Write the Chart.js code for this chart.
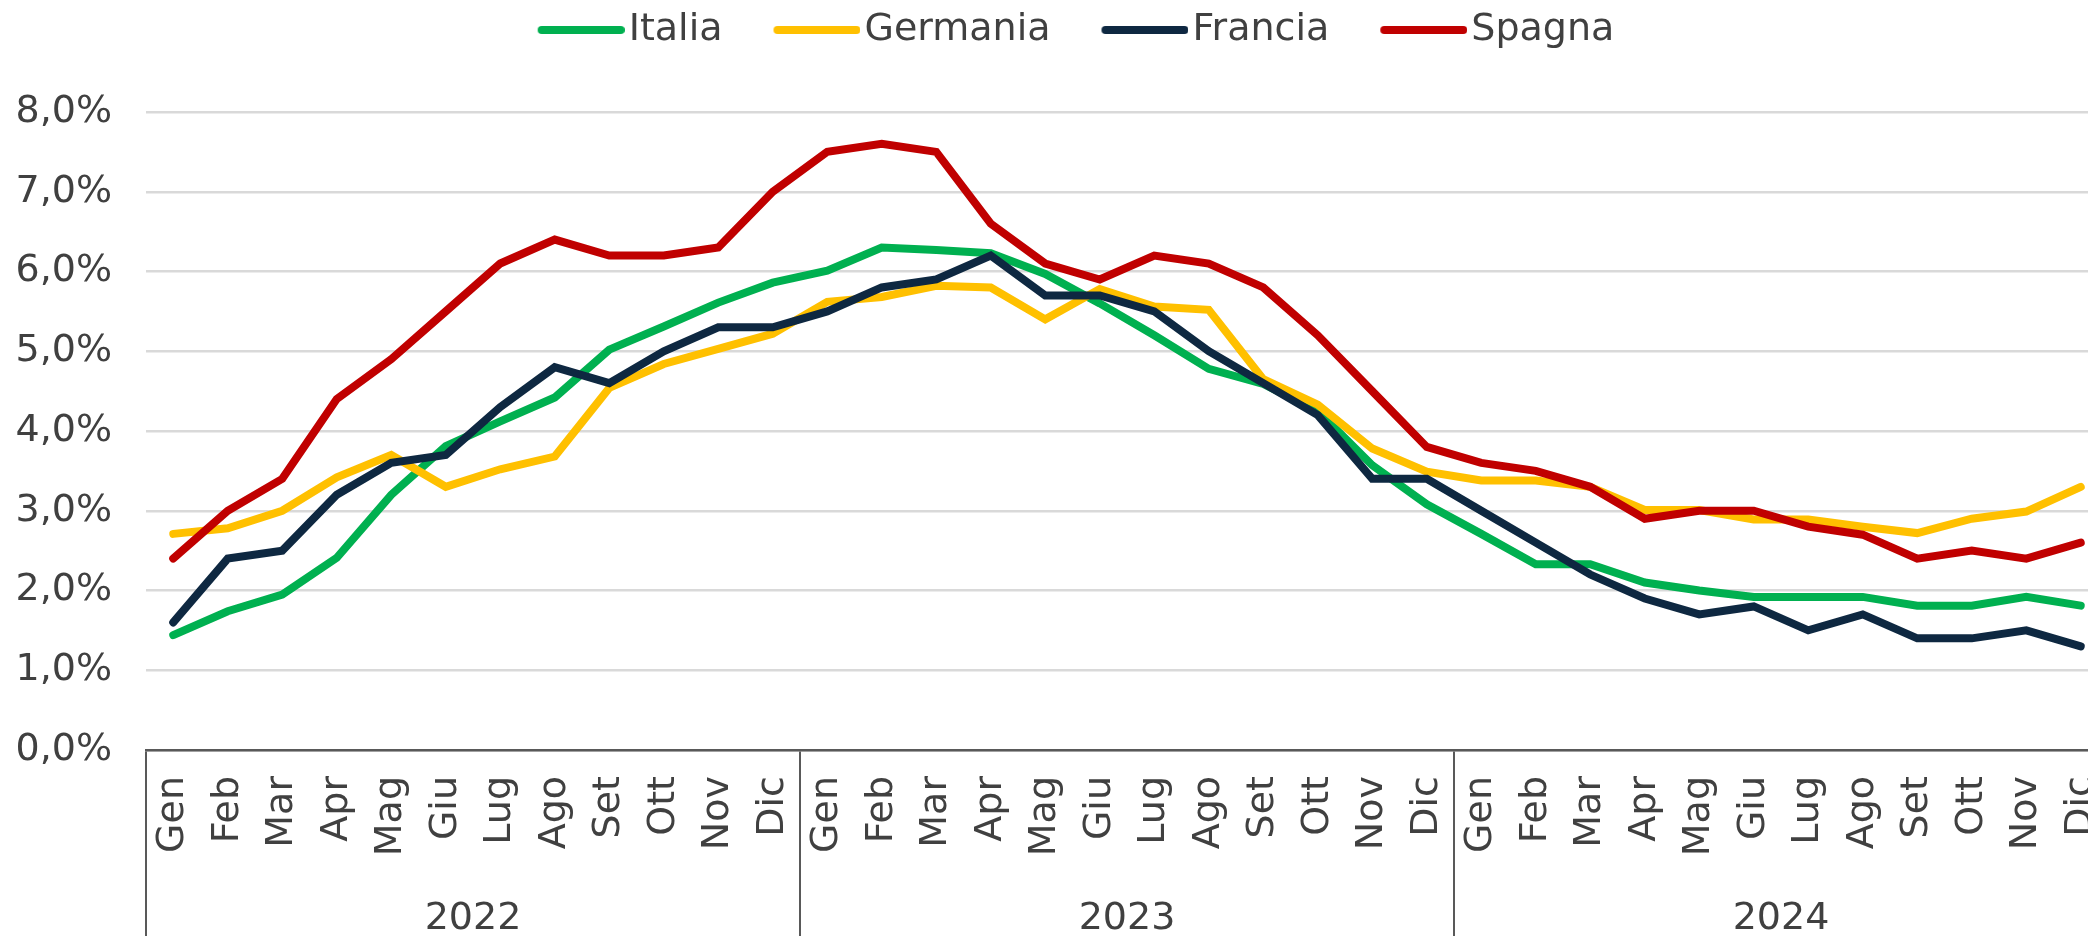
<!DOCTYPE html>
<html>
<head>
<meta charset="utf-8">
<script src="https://cdn.jsdelivr.net/npm/chart.js@4.4.1/dist/chart.umd.min.js"></script>
<style>
  html, body { margin: 0; padding: 0; background: #ffffff; overflow: hidden; }
  #wrap { width: 2108px; height: 936px; }
</style>
</head>
<body>
<div id="wrap"><canvas id="c" width="2108" height="936"></canvas></div>
<script>
// ---- data ----
const years = ['2022', '2023', '2024'];
const months = ['Gen', 'Feb', 'Mar', 'Apr', 'Mag', 'Giu', 'Lug', 'Ago', 'Set', 'Ott', 'Nov', 'Dic'];
const yTickLabels = ['0,0%', '1,0%', '2,0%', '3,0%', '4,0%', '5,0%', '6,0%', '7,0%', '8,0%'];

const italia = [1.44, 1.74, 1.95, 2.41, 3.20, 3.81, 4.12, 4.42, 5.02, 5.31, 5.61, 5.86,
                6.01, 6.30, 6.27, 6.23, 5.97, 5.60, 5.20, 4.78, 4.59, 4.25, 3.57, 3.08,
                2.71, 2.33, 2.33, 2.10, 2.00, 1.92, 1.92, 1.92, 1.81, 1.81, 1.92, 1.81];
const germania = [2.71, 2.78, 3.00, 3.42, 3.70, 3.30, 3.52, 3.68, 4.54, 4.84, 5.03, 5.22,
                  5.62, 5.68, 5.82, 5.80, 5.40, 5.78, 5.56, 5.52, 4.65, 4.33, 3.78, 3.49,
                  3.38, 3.38, 3.30, 3.01, 3.01, 2.89, 2.89, 2.80, 2.72, 2.90, 2.99, 3.30];
const francia = [1.6, 2.4, 2.5, 3.2, 3.6, 3.7, 4.3, 4.8, 4.6, 5.0, 5.3, 5.3,
                 5.5, 5.8, 5.9, 6.2, 5.7, 5.7, 5.5, 5.0, 4.6, 4.2, 3.4, 3.4,
                 3.0, 2.6, 2.2, 1.9, 1.7, 1.8, 1.5, 1.7, 1.4, 1.4, 1.5, 1.3];
const spagna = [2.4, 3.0, 3.4, 4.4, 4.9, 5.5, 6.1, 6.4, 6.2, 6.2, 6.3, 7.0,
                7.5, 7.6, 7.5, 6.6, 6.1, 5.9, 6.2, 6.1, 5.8, 5.2, 4.5, 3.8,
                3.6, 3.5, 3.3, 2.9, 3.0, 3.0, 2.8, 2.7, 2.4, 2.5, 2.4, 2.6];
const seriesNames = ['Italia', 'Germania', 'Francia', 'Spagna'];
const seriesColors = ['#00B050', '#FFC000', '#0E2841', '#C00000'];

// ---- build ----
const categories = [];
years.forEach(() => months.forEach(m => categories.push(m)));
const seriesValues = [italia, germania, francia, spagna];

const TEXT = '#404040';
const AXIS = '#595959';
Chart.defaults.font.family = '"DejaVu Sans", sans-serif';
Chart.defaults.font.size = 38;
Chart.defaults.color = TEXT;

function legendLine(color) {
  const cv = document.createElement('canvas');
  cv.width = 146; cv.height = 10;
  const g = cv.getContext('2d');
  g.strokeStyle = color; g.lineWidth = 8; g.lineCap = 'round';
  g.beginPath(); g.moveTo(63, 5); g.lineTo(142, 5); g.stroke();
  return cv;
}
const legendImages = seriesColors.map(legendLine);

const datasets = seriesNames.map((name, i) => ({
  label: name,
  data: seriesValues[i],
  borderColor: seriesColors[i],
  backgroundColor: seriesColors[i],
  borderWidth: 8,
  borderCapStyle: 'round',
  borderJoinStyle: 'miter',
  pointRadius: 0,
  pointHoverRadius: 0,
  tension: 0,
  fill: false,
  order: seriesNames.length - i
}));

const legendSpacer = {
  id: 'legendSpacer',
  beforeInit(chart) {
    const orig = chart.legend.fit;
    chart.legend.fit = function () {
      orig.call(this);
      this.height = 108;
    };
  }
};

new Chart(document.getElementById('c'), {
  type: 'line',
  data: { labels: categories, datasets },
  plugins: [legendSpacer],
  options: {
    responsive: false,
    animation: false,
    devicePixelRatio: 1,
    layout: { padding: { top: 4, left: 0, right: 0, bottom: 0 } },
    plugins: {
      tooltip: { enabled: false },
      legend: {
        position: 'top',
        align: 'center',
        labels: {
          usePointStyle: true,
          pointStyleWidth: 116,
          boxWidth: 116,
          padding: 7,
          color: TEXT,
          font: { size: 38, family: '"DejaVu Sans", sans-serif' },
          generateLabels(chart) {
            return chart.data.datasets.map((ds, i) => ({
              text: ds.label,
              datasetIndex: i,
              fillStyle: ds.borderColor,
              strokeStyle: ds.borderColor,
              lineWidth: 0,
              pointStyle: legendImages[i],
              hidden: false,
              fontColor: TEXT
            }));
          }
        }
      }
    },
    scales: {
      y: {
        min: 0,
        max: 8,
        afterFit(scale) { scale.width = 146; },
        ticks: {
          stepSize: 1,
          padding: 34,
          color: TEXT,
          font: { size: 38 },
          callback: (v, idx) => yTickLabels[idx]
        },
        grid: { color: '#D9D9D9', lineWidth: 2.5, drawTicks: false },
        border: { display: false }
      },
      x: {
        type: 'category',
        position: 'bottom',
        offset: true,
        afterFit(scale) { scale.height = 130; },
        ticks: {
          autoSkip: false,
          maxRotation: 90,
          minRotation: 90,
          padding: -104,
          color: TEXT,
          font: { size: 38 }
        },
        grid: {
          offset: true,
          drawOnChartArea: false,
          drawTicks: true,
          tickLength: 130,
          lineWidth: 2,
          color: (ctx) => (ctx.index % 12 === 0 ? AXIS : 'rgba(0,0,0,0)')
        },
        border: { display: true, color: AXIS, width: 2.5 }
      },
      xYear: {
        type: 'category',
        position: 'bottom',
        offset: true,
        labels: years,
        afterFit(scale) { scale.height = 56; },
        ticks: {
          autoSkip: false,
          maxRotation: 0,
          minRotation: 0,
          padding: -40,
          color: TEXT,
          font: { size: 38 }
        },
        grid: {
          offset: true,
          drawOnChartArea: false,
          drawTicks: true,
          tickLength: 56,
          lineWidth: 2,
          color: AXIS
        },
        border: { display: false }
      }
    }
  }
});
</script>
</body>
</html>
